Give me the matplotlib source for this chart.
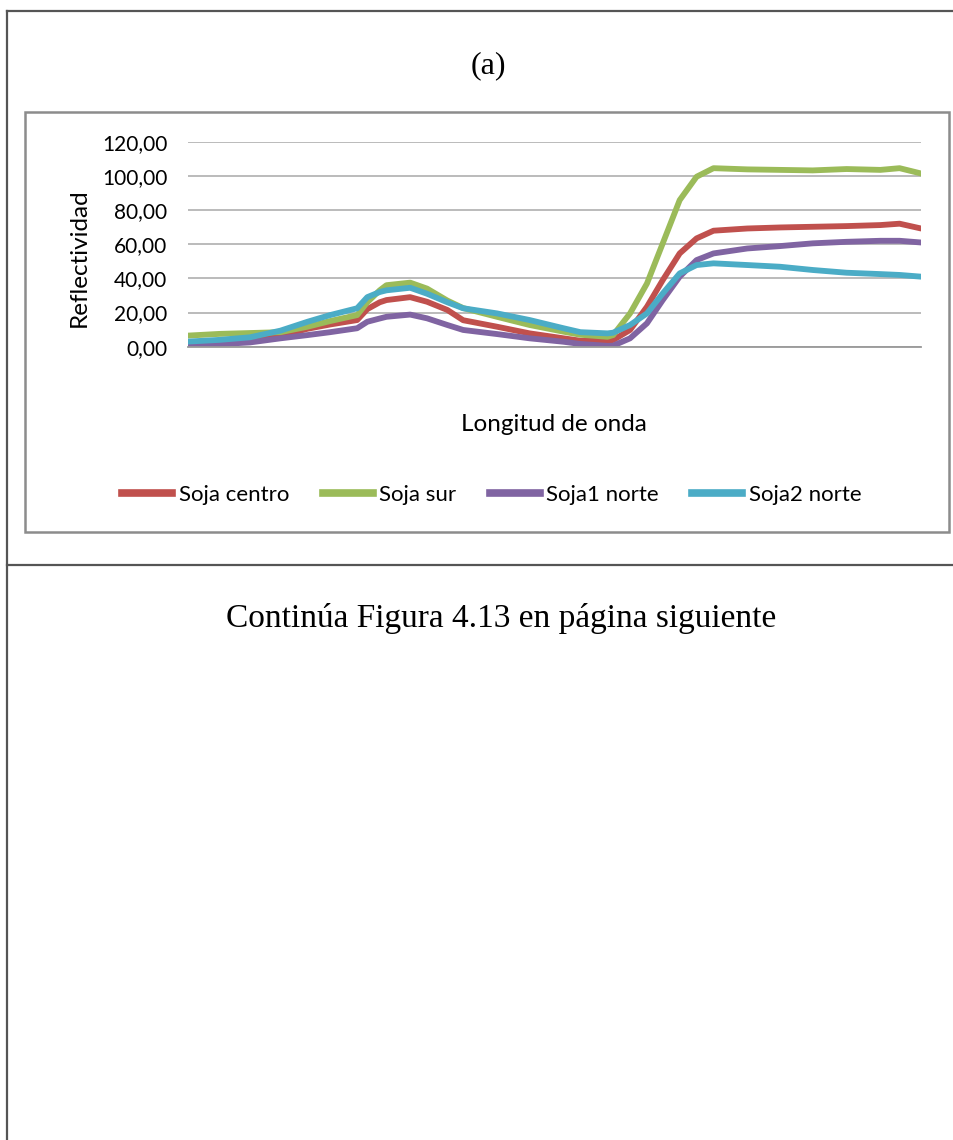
import matplotlib
matplotlib.use("Agg")
import matplotlib.pyplot as plt
from matplotlib.lines import Line2D
from matplotlib.patches import Rectangle

# Reflectance spectra read at selected wavelengths (nm)
wavelength = [350, 378, 405, 432, 456, 476, 500, 509, 520, 526, 547, 562,
              580, 594, 624, 653, 683, 698, 722, 727, 742, 757, 771, 786,
              801, 816, 846, 875, 904, 934, 964, 981, 1000]

soja_centro = [1.6, 2.5, 4.0, 6.3, 10.5, 13.0, 15.6, 22.0, 26.0, 27.3, 29.0, 26.3,
               21.5, 15.5, 11.7, 7.8, 4.9, 3.5, 3.5, 3.9, 9.8, 23.4, 39.0, 54.6,
               63.4, 67.9, 69.2, 69.8, 70.2, 70.6, 71.2, 72.0, 69.2]
soja_sur = [6.5, 7.5, 8.0, 8.5, 11.7, 15.0, 18.5, 26.0, 33.0, 36.0, 37.5, 34.0,
            27.0, 22.6, 17.5, 12.7, 8.8, 7.0, 5.8, 6.8, 19.5, 37.0, 60.5, 85.8,
            99.5, 104.5, 103.8, 103.5, 103.2, 104.0, 103.5, 104.5, 101.4]
soja1_norte = [1.0, 1.5, 2.5, 4.9, 6.8, 8.5, 10.8, 14.6, 16.5, 17.5, 18.8, 16.6,
               12.7, 9.8, 7.4, 4.9, 2.9, 1.6, 0.5, 0.6, 4.9, 13.7, 27.3, 41.0,
               50.7, 54.6, 57.5, 58.9, 60.5, 61.4, 62.0, 62.0, 61.0]
soja2_norte = [3.0, 4.0, 5.5, 9.4, 14.6, 18.5, 22.5, 29.0, 32.0, 33.0, 34.5, 31.0,
               26.0, 22.5, 19.5, 15.6, 10.8, 8.5, 7.8, 8.2, 12.7, 19.5, 31.2, 42.9,
               47.8, 48.8, 47.8, 46.8, 44.9, 43.3, 42.5, 42.0, 41.0]

series_names = ["Soja centro", "Soja sur", "Soja1 norte", "Soja2 norte"]
series_colors = ["#C0504D", "#9BBB59", "#8064A2", "#4BACC6"]
y_ticks = [0, 20, 40, 60, 80, 100, 120]

W, H = 954, 1140
fig = plt.figure(figsize=(W / 100, H / 100), dpi=100)

def fx(x): return x / W
def fy(y): return 1 - y / H

# page frame lines
frame_kw = dict(color="#555555", lw=1.6, transform=fig.transFigure)
fig.add_artist(Line2D([fx(7), 1], [fy(11), fy(11)], **frame_kw))
fig.add_artist(Line2D([fx(7), fx(7)], [fy(11), 0], **frame_kw))
fig.add_artist(Line2D([fx(7), 1], [fy(565), fy(565)], **frame_kw))

# chart area border
fig.add_artist(Rectangle((fx(25), fy(532)), fx(949) - fx(25), fy(112) - fy(532),
                         transform=fig.transFigure, fill=False,
                         edgecolor="#8c8c8c", lw=1.8))

fig.text(fx(488), fy(66), "(a)", family="Liberation Serif", fontsize=23,
         ha="center", va="center")
fig.text(fx(501), fy(619), "Continúa Figura 4.13 en página siguiente",
         family="Liberation Serif", fontsize=24, ha="center", va="center")

ax = fig.add_axes([fx(188), fy(346.7), fx(921) - fx(188), fy(141.7) - fy(346.7)])
data = [soja_centro, soja_sur, soja1_norte, soja2_norte]
for vals, name, col in zip(data, series_names, series_colors):
    ax.plot(wavelength, vals, color=col, lw=4.2, label=name,
            solid_capstyle="round", solid_joinstyle="round")

ax.set_xlim(wavelength[0], wavelength[-1])
ax.set_ylim(0, 120)
ax.set_yticks(y_ticks)
ax.set_yticklabels([f"{v},00" for v in y_ticks], family="Lato", fontsize=15)
ax.set_xticks([])
ax.tick_params(axis="y", length=0, pad=15)
ax.grid(axis="y", color="#b5b5b5", lw=1.3)
ax.set_axisbelow(True)
for s in ["top", "right", "left"]:
    ax.spines[s].set_visible(False)
ax.spines["bottom"].set_color("#999999")
ax.spines["bottom"].set_linewidth(1.3)
ax.patch.set_alpha(0)

fig.text(fx(79), fy(258), "Reflectividad", family="Lato", fontsize=17.5,
         rotation=90, ha="center", va="center")
fig.text(fx(554), fy(425), "Longitud de onda", family="Lato", fontsize=17.5,
         ha="center", va="center")

handles = [Line2D([], [], color=c, lw=5.5) for c in series_colors]
fig.legend(handles, series_names, loc="center", bbox_to_anchor=(fx(492), fy(495)),
           ncol=4, frameon=False, prop={"family": "Lato", "size": 16},
           handlelength=2.25, handletextpad=0.3, columnspacing=1.5)

fig.savefig("out.png", dpi=100)
